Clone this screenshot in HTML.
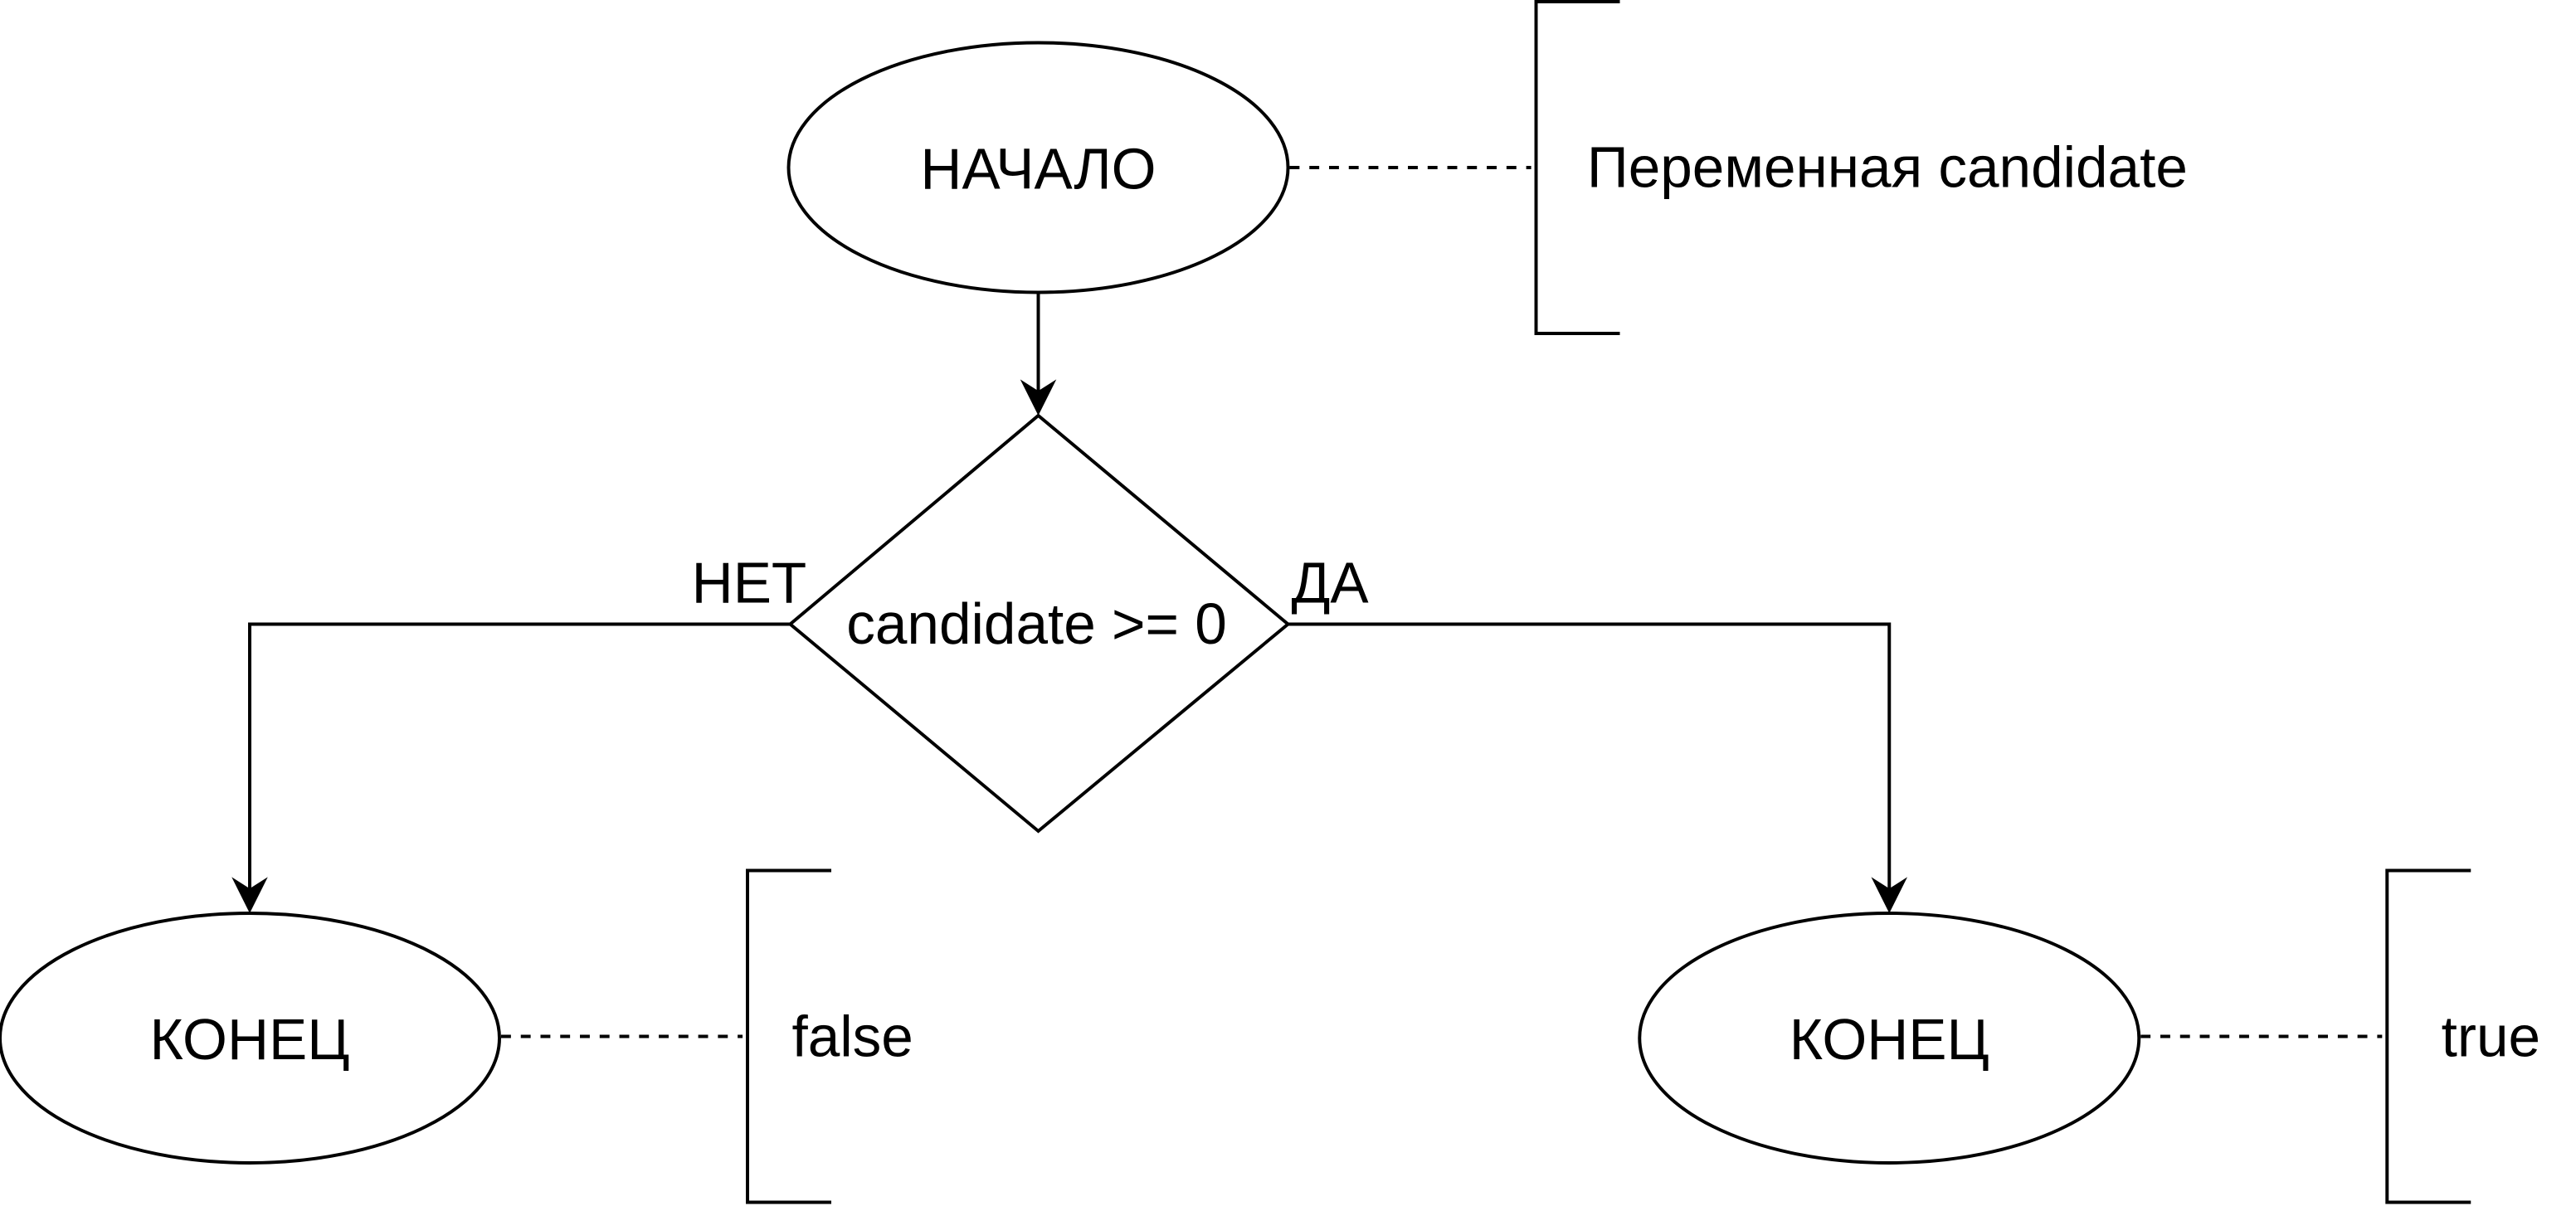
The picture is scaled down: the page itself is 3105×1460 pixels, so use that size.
<!DOCTYPE html>
<html><head><meta charset="utf-8"><style>
html,body{margin:0;padding:0;background:#fff;}
svg{display:block;}
text{font-family:"Liberation Sans",sans-serif;fill:#000;}
</style></head><body>
<svg width="3105" height="1460" viewBox="0 0 1568 737.3" preserveAspectRatio="none" xmlns="http://www.w3.org/2000/svg">
<g fill="none" stroke="#000" stroke-width="2">
<ellipse cx="632" cy="102" rx="152" ry="76"/>
<ellipse cx="152" cy="632" rx="152" ry="76"/>
<ellipse cx="1150" cy="632" rx="152" ry="76"/>
<polygon points="632,253 784,380 632,506 481,380"/>
<line x1="632" y1="178" x2="632" y2="240"/>
<polyline points="481,380 152,380 152,543"/>
<polyline points="784,380 1150,380 1150,543"/>
<g stroke-dasharray="6,6">
<line x1="785" y1="102" x2="932" y2="102"/>
<line x1="305" y1="631" x2="452" y2="631"/>
<line x1="1303" y1="631" x2="1450" y2="631"/>
</g>
<polyline points="986,1 935,1 935,203 986,203"/>
<polyline points="506,530 455,530 455,732 506,732"/>
<polyline points="1504,530 1453,530 1453,732 1504,732"/>
</g>
<g fill="#000">
<polygon points="632,253 621,231 632,238 643,231"/>
<polygon points="152,556 141,534 152,541 163,534"/>
<polygon points="1150,556 1139,534 1150,541 1161,534"/>
</g>
<g font-size="35" text-anchor="middle">
<text x="632" y="115">НАЧАЛО</text>
<text x="152" y="645">КОНЕЦ</text>
<text x="1150" y="645">КОНЕЦ</text>
</g>
<text x="631" y="392" font-size="35" text-anchor="middle">candidate &gt;= 0</text>
<text x="421" y="367" font-size="35">НЕТ</text>
<text x="786" y="367" font-size="35">ДА</text>
<text x="966" y="114" font-size="35">Переменная candidate</text>
<text x="482" y="643" font-size="35">false</text>
<text x="1486" y="643" font-size="35">true</text>
</svg>
</body></html>
